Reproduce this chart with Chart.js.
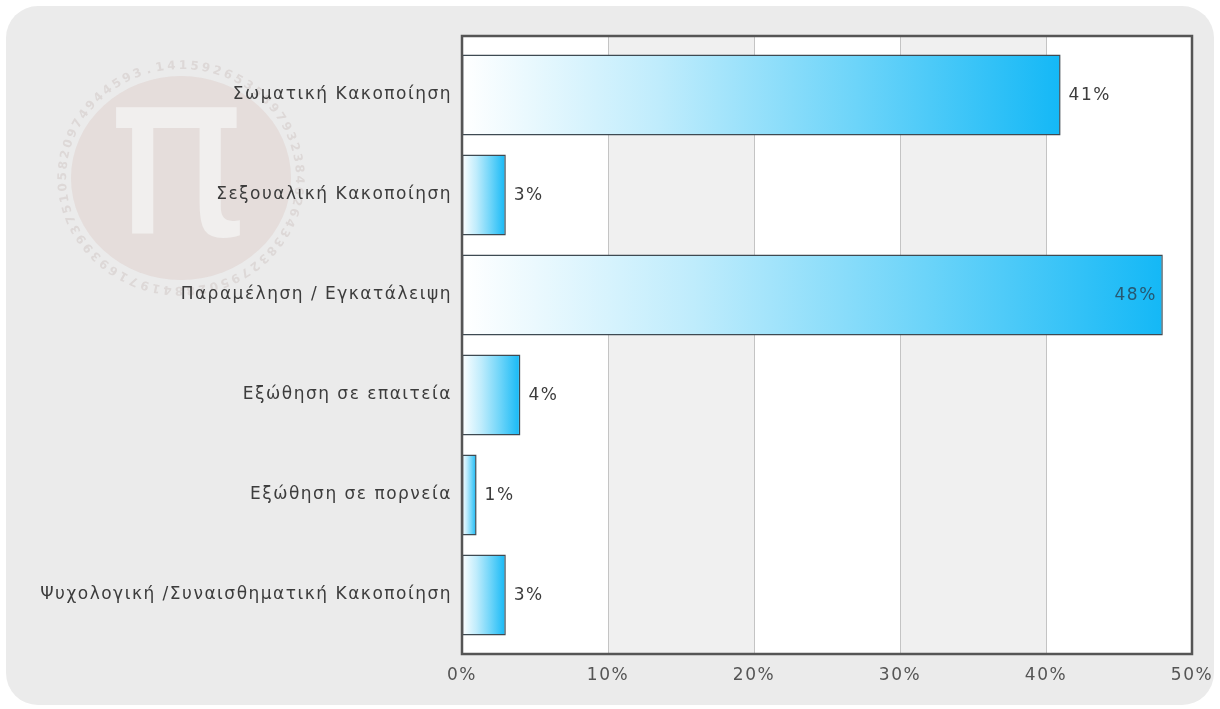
<!DOCTYPE html>
<html>
<head>
<meta charset="utf-8">
<title>Κακοποίηση</title>
<script src="https://cdn.jsdelivr.net/npm/chart.js@4/dist/chart.umd.min.js"></script>
<style>
  html, body { margin: 0; padding: 0; background: #fff; }
  #wrap { width: 1220px; height: 709px; position: relative; }
</style>
</head>
<body>
<div id="wrap"><canvas id="myChart" width="1220" height="709"></canvas></div>
<script>
var categories = [
  "Σωματική Κακοποίηση",
  "Σεξουαλική Κακοποίηση",
  "Παραμέληση / Εγκατάλειψη",
  "Εξώθηση σε επαιτεία",
  "Εξώθηση σε πορνεία",
  "Ψυχολογική /Συναισθηματική Κακοποίηση"
];
var percentValues = [41, 3, 48, 4, 1, 3];
var tickValues = [0, 10, 20, 30, 40, 50];

var FONT = { family: "'DejaVu Sans', Verdana, sans-serif", size: 17 };
var PI_DIGITS = "3.14159265358979323846264338327950288419716939937510582097494459230781640628620899862803";

// frame of the plot reaches a bit past the category area
var FRAME_PAD = 9;

function frameRect(chart) {
  var a = chart.chartArea;
  return { left: a.left, right: a.right, top: a.top - FRAME_PAD, bottom: a.bottom + FRAME_PAD };
}

// grey rounded panel plus the faded pi watermark
var panelPlugin = {
  id: 'panel',
  beforeDraw: function(chart) {
    var ctx = chart.ctx;
    ctx.save();
    ctx.letterSpacing = '0px';
    ctx.fillStyle = '#ffffff';
    ctx.fillRect(0, 0, chart.width, chart.height);
    ctx.fillStyle = '#ebebeb';
    ctx.beginPath();
    ctx.roundRect(6, 6, chart.width - 12, chart.height - 10, 32);
    ctx.fill();

    var cx = 181, cy = 178;
    ctx.fillStyle = 'rgba(196, 140, 128, 0.15)';
    ctx.beginPath();
    ctx.ellipse(cx, cy, 110, 102, 0, 0, Math.PI * 2);
    ctx.fill();

    ctx.fillStyle = 'rgba(242, 241, 240, 0.9)';
    ctx.font = "230px 'DejaVu Sans', sans-serif";
    ctx.textAlign = 'center';
    ctx.textBaseline = 'middle';
    ctx.fillText('π', cx - 4, cy - 4);

    ctx.fillStyle = 'rgba(150, 120, 115, 0.16)';
    ctx.font = "bold 12px 'DejaVu Sans', sans-serif";
    var r = 118;
    var step = (Math.PI * 2) / 64;
    for (var i = 0; i < 64; i++) {
      var ang = -Math.PI * 0.62 + i * step;
      ctx.save();
      ctx.translate(cx + Math.cos(ang) * r, cy + Math.sin(ang) * r * 0.95);
      ctx.rotate(ang + Math.PI / 2);
      ctx.fillText(PI_DIGITS[i], 0, 0);
      ctx.restore();
    }
    ctx.restore();
    ctx.letterSpacing = '1.5px';
  }
};

// alternating bands, grid lines and frame around the plot
var framePlugin = {
  id: 'frame',
  beforeDatasetsDraw: function(chart) {
    var ctx = chart.ctx, x = chart.scales.x, f = frameRect(chart);
    ctx.save();
    for (var i = 0; i < tickValues.length - 1; i++) {
      var x0 = x.getPixelForValue(tickValues[i]);
      var x1 = x.getPixelForValue(tickValues[i + 1]);
      ctx.fillStyle = i % 2 === 0 ? '#ffffff' : '#f0f0f0';
      ctx.fillRect(x0, f.top, x1 - x0, f.bottom - f.top);
    }
    ctx.strokeStyle = '#c4c4c4';
    ctx.lineWidth = 1;
    for (var j = 1; j < tickValues.length - 1; j++) {
      var gx = Math.round(x.getPixelForValue(tickValues[j])) + 0.5;
      ctx.beginPath();
      ctx.moveTo(gx, f.top);
      ctx.lineTo(gx, f.bottom);
      ctx.stroke();
    }
    ctx.restore();
  },
  afterDatasetsDraw: function(chart) {
    var ctx = chart.ctx, f = frameRect(chart);
    ctx.save();
    ctx.strokeStyle = '#555555';
    ctx.lineWidth = 2.5;
    ctx.strokeRect(f.left, f.top, f.right - f.left, f.bottom - f.top);

    // value labels next to (or inside) each bar
    var meta = chart.getDatasetMeta(0);
    ctx.font = FONT.size + "px " + FONT.family;
    ctx.textBaseline = 'middle';
    meta.data.forEach(function(bar, i) {
      var txt = percentValues[i] + '%';
      var w = ctx.measureText(txt).width;
      if (bar.x + 8 + w > f.right - 4) {
        ctx.fillStyle = 'rgba(40, 70, 90, 0.85)';
        ctx.textAlign = 'right';
        ctx.fillText(txt, bar.x - 6, bar.y + 1);
      } else {
        ctx.fillStyle = '#3c3c3c';
        ctx.textAlign = 'left';
        ctx.fillText(txt, bar.x + 8, bar.y + 1);
      }
    });
    ctx.restore();
  }
};

function barGradient(context) {
  var chart = context.chart;
  if (!chart.chartArea || context.dataIndex === undefined) return '#14b8f6';
  var x = chart.scales.x;
  var x0 = x.getPixelForValue(0);
  var x1 = x.getPixelForValue(percentValues[context.dataIndex]);
  var g = chart.ctx.createLinearGradient(x0, 0, x1, 0);
  g.addColorStop(0, '#ffffff');
  g.addColorStop(0.33, '#bfecfc');
  g.addColorStop(0.66, '#6cd4f9');
  g.addColorStop(1, '#14b8f6');
  return g;
}

var ctx = document.getElementById('myChart').getContext('2d');
ctx.letterSpacing = '1.5px';

var myChart = new Chart(ctx, {
  type: 'bar',
  data: {
    labels: categories,
    datasets: [{
      data: percentValues,
      backgroundColor: barGradient,
      borderColor: '#3e4a52',
      borderWidth: 1.5,
      borderSkipped: false,
      barPercentage: 0.81,
      categoryPercentage: 1
    }]
  },
  options: {
    indexAxis: 'y',
    responsive: false,
    animation: false,
    layout: { padding: { top: 45, right: 28, bottom: 0, left: 0 } },
    plugins: {
      legend: { display: false },
      tooltip: { enabled: false }
    },
    scales: {
      x: {
        min: 0,
        max: 50,
        afterFit: function(scale) {
          scale.height = 64;
          scale.paddingLeft = 0;
          scale.paddingRight = 0;
        },
        grid: { display: false, drawTicks: false },
        border: { display: false },
        ticks: {
          stepSize: 10,
          padding: 20,
          color: '#555555',
          font: FONT,
          callback: function(v) { return v + '%'; }
        }
      },
      y: {
        offset: true,
        afterFit: function(scale) { scale.width = 462; },
        grid: { display: false, drawTicks: false },
        border: { display: false },
        ticks: {
          padding: 10,
          color: '#3c3c3c',
          font: FONT
        }
      }
    }
  },
  plugins: [panelPlugin, framePlugin]
});
</script>
</body>
</html>
